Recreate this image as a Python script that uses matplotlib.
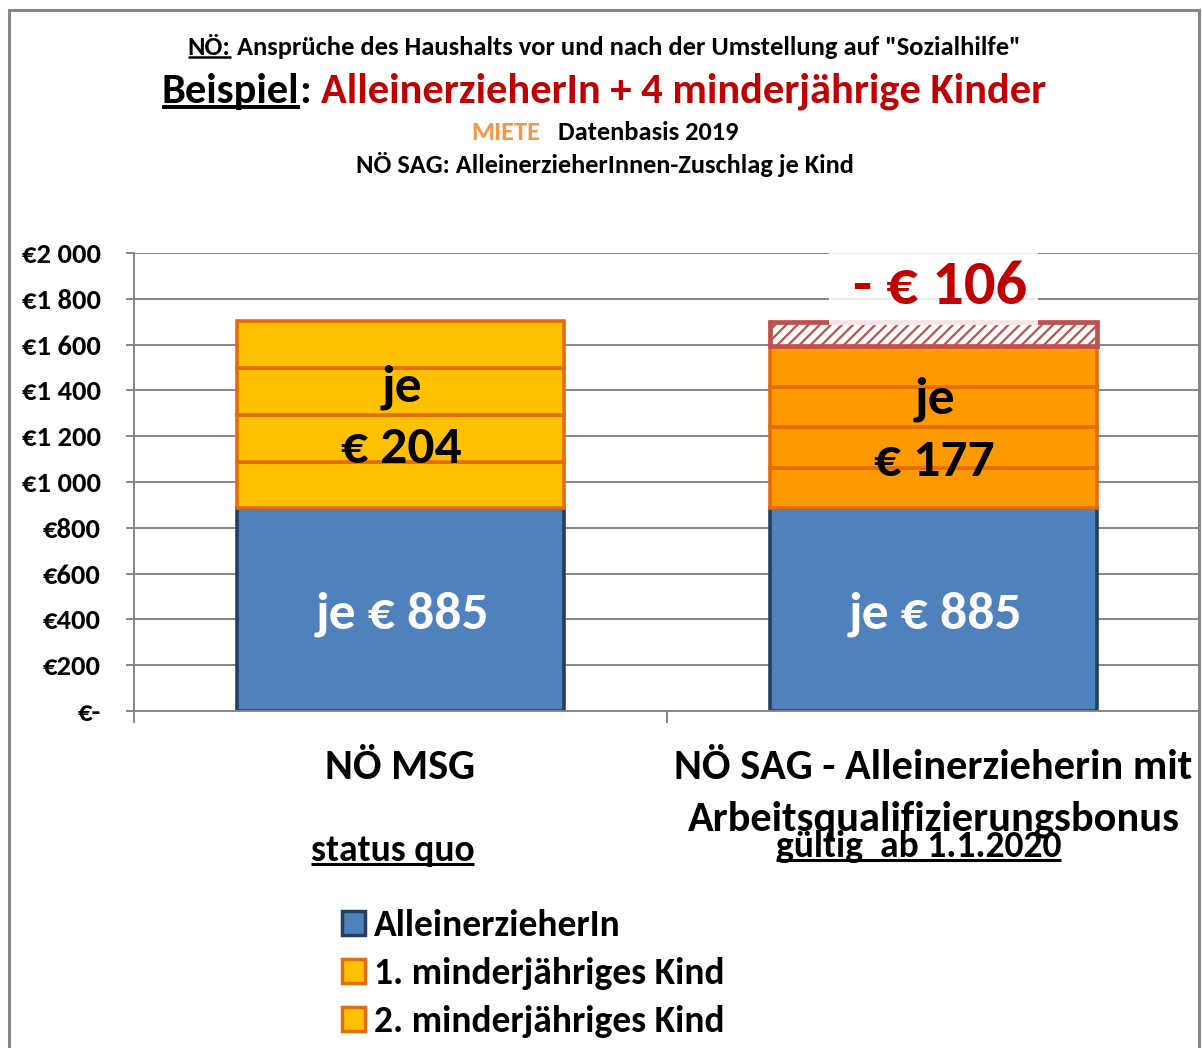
import matplotlib
matplotlib.use("Agg")
import matplotlib.pyplot as plt
from matplotlib import font_manager
from matplotlib.patches import Rectangle, Patch
from matplotlib.lines import Line2D
from matplotlib.transforms import IdentityTransform
from matplotlib.ticker import FuncFormatter, FixedLocator

# ---------------- data ----------------
categories = ["NÖ MSG", "NÖ SAG - Alleinerzieherin mit\nArbeitsqualifizierungsbonus"]
subtitles = ["status quo", "gültig  ab 1.1.2020"]
parent_amount = [885, 885]          # AlleinerzieherIn
child_amount = [204, 177]           # je minderjähriges Kind
n_children = 4
loss_amount = [0, 106]              # Differenz (Verlust)
legend_labels = ["AlleinerzieherIn", "1. minderjähriges Kind", "2. minderjähriges Kind"]
y_ticks = [0, 200, 400, 600, 800, 1000, 1200, 1400, 1600, 1800, 2000]

# ---------------- fonts ----------------
available = {f.name for f in font_manager.fontManager.ttflist}
FONT = next(f for f in ["Carlito", "Open Sans", "DejaVu Sans"] if f in available)
S = 1.0 if FONT == "Carlito" else 0.86
plt.rcParams["font.family"] = [FONT, "DejaVu Sans"]
plt.rcParams["font.weight"] = "bold"
plt.rcParams["hatch.linewidth"] = 1.6
plt.rcParams["hatch.color"] = "#C0504D"

W, H = 1202, 1048
fig = plt.figure(figsize=(W / 100, H / 100), dpi=100)
fig.patch.set_facecolor("white")
ax = fig.add_axes([134 / W, 1 - 711 / H, (1200 - 134) / W, (711 - 253) / H])

BLUE, NAVY = "#4F81BD", "#243F60"
YEL, ORG, ORG_EDGE = "#FFC000", "#FF9900", "#E46C0A"
RED_HATCH = "#C0504D"
DARK_RED = "#C00000"
GRAY = "#868686"

x = list(range(len(categories)))
bw = 0.615
ax.bar(x, parent_amount, width=bw, color=BLUE, edgecolor=NAVY, linewidth=2.6, zorder=2)
bottom = list(parent_amount)
child_fill = [YEL, ORG]
for k in range(n_children):
    ax.bar(x, child_amount, bottom=bottom, width=bw, color=child_fill,
           edgecolor=ORG_EDGE, linewidth=2.6, zorder=3)
    bottom = [b + c for b, c in zip(bottom, child_amount)]
loss_x = [i for i in x if loss_amount[i] > 0]
ax.bar(loss_x, [loss_amount[i] for i in loss_x], bottom=[bottom[i] for i in loss_x], width=bw,
       color="white", edgecolor=RED_HATCH, hatch="///", linewidth=3.4, zorder=4)

# axes styling
ax.set_xlim(-0.5, len(categories) - 0.5)
ax.set_ylim(0, 2000)
ax.yaxis.set_major_locator(FixedLocator(y_ticks))
ax.yaxis.set_major_formatter(FuncFormatter(
    lambda v, p: "€-" if v == 0 else "€" + f"{v:,.0f}".replace(",", " ")))
ax.grid(axis="y", color=GRAY, linewidth=1.4, zorder=0)
ax.set_axisbelow(True)
for s in ["top", "right"]:
    ax.spines[s].set_visible(False)
for s in ["left", "bottom"]:
    ax.spines[s].set_color(GRAY)
    ax.spines[s].set_linewidth(1.4)
ax.tick_params(axis="y", direction="out", length=6, width=1.4, color=GRAY,
               labelsize=20.5 * S, pad=18)
ax.set_xticks([i - 0.5 for i in range(len(categories) + 1)])
ax.set_xticklabels([])
ax.tick_params(axis="x", direction="out", length=8.5, width=1.4, color=GRAY)
for lab in ax.get_yticklabels():
    lab.set_fontweight("bold")

# bar labels
for i in x:
    ax.annotate(f"je € {parent_amount[i]}", xy=(i, parent_amount[i] / 2), xytext=(2, -5),
                textcoords="offset pixels", ha="center", va="center",
                color="white", fontsize=38.5 * S, fontweight="bold", zorder=6)
    mid = parent_amount[i] + child_amount[i] * n_children / 2
    ax.annotate(f"je\n€ {child_amount[i]}", xy=(i, mid), xytext=(1, -3),
                textcoords="offset pixels", ha="center", va="center", linespacing=1.45,
                color="black", fontsize=38.5 * S, fontweight="bold", zorder=6)
    if loss_amount[i] > 0:
        top = parent_amount[i] + child_amount[i] * n_children + loss_amount[i]
        ax.add_patch(Rectangle((i - 0.196, top - 12), 0.392, 318, facecolor="white",
                               edgecolor="none", alpha=0.85, zorder=5, clip_on=False))
        ax.annotate(f"- € {loss_amount[i]}", xy=(i, top), xytext=(7, 35),
                    textcoords="offset pixels", ha="center", va="center",
                    color=DARK_RED, fontsize=45 * S, fontweight="bold", zorder=7)

# ---------------- text helpers ----------------
renderer = fig.canvas.get_renderer()
ID = IdentityTransform()


def measure(s, size):
    t = fig.text(0, 0, s, fontsize=size, fontweight="bold")
    w = t.get_window_extent(renderer).width
    t.remove()
    return w


def underline(x0, x1, y_img, lw):
    fig.add_artist(Line2D([x0, x1], [H - y_img, H - y_img], transform=ID,
                          color="black", linewidth=lw, solid_capstyle="butt"))


def rich_line(parts, cx, base_y, size, ul_lw=1.5):
    """parts: list of (text, color, underline, spaces_after)"""
    sp = measure("a a", size) - measure("aa", size)
    texts, widths = [], []
    for s, c, u, g in parts:
        t = fig.text(0, 0, s, color=c, fontsize=size, fontweight="bold",
                     va="baseline", ha="left", transform=ID)
        texts.append(t)
        widths.append(t.get_window_extent(renderer).width)
    total = sum(widths) + sp * sum(p[3] for p in parts)
    xx = cx - total / 2
    em = size * 100 / 72
    for t, w, p in zip(texts, widths, parts):
        t.set_position((xx, H - base_y))
        if p[2]:
            underline(xx, xx + w, base_y + 0.09 * em, ul_lw)
        xx += w + sp * p[3]


# ---------------- titles ----------------
rich_line([("NÖ:", "black", True, 1),
           ('Ansprüche des Haushalts vor und nach der Umstellung auf "Sozialhilfe"', "black", False, 0)],
          604, 55, 19.1 * S, 1.8)
rich_line([("Beispiel", "black", True, 0), (":", "black", False, 1),
           ("AlleinerzieherIn + 4 minderjährige Kinder", DARK_RED, False, 0)],
          604, 103, 30.6 * S, 2.8)
rich_line([("MIETE", "#F79646", False, 3), ("Datenbasis 2019", "black", False, 0)],
          605, 140, 19 * S)
rich_line([("NÖ SAG: AlleinerzieherInnen-Zuschlag je Kind", "black", False, 0)],
          605, 173, 19 * S)

# ---------------- category labels ----------------
cat_base = [[779], [779, 831]]
sub_base = [861, 857]
for i, (cat, sub) in enumerate(zip(categories, subtitles)):
    cx = ax.transData.transform((i, 0))[0]
    for line, by in zip(cat.split("\n"), cat_base[i]):
        rich_line([(line, "black", False, 0)], cx, by, 30.5 * S)
    rich_line([(sub, "black", True, 0)], cx - (8 if i == 0 else 15), sub_base[i], 27 * S, 2.2)

# ---------------- legend ----------------
handles = [Patch(facecolor=BLUE, edgecolor=NAVY, linewidth=2.5),
           Patch(facecolor=YEL, edgecolor=ORG_EDGE, linewidth=2.5),
           Patch(facecolor=YEL, edgecolor=ORG_EDGE, linewidth=2.5)]
fig.legend(handles, legend_labels, loc="upper left",
           bbox_to_anchor=(342 / W, 1 - 909 / H), frameon=False,
           fontsize=27 * S, handlelength=0.62, handleheight=0.62, handletextpad=0.22,
           labelspacing=0.4, borderpad=0, borderaxespad=0)

# ---------------- outer frame ----------------
fig.add_artist(Rectangle((9 / W, -0.05), (1199 - 9) / W, 1.05 - 10 / H, transform=fig.transFigure,
                         fill=False, edgecolor=GRAY, linewidth=2.2, clip_on=False))

fig.savefig("out.png", dpi=100, facecolor="white")
